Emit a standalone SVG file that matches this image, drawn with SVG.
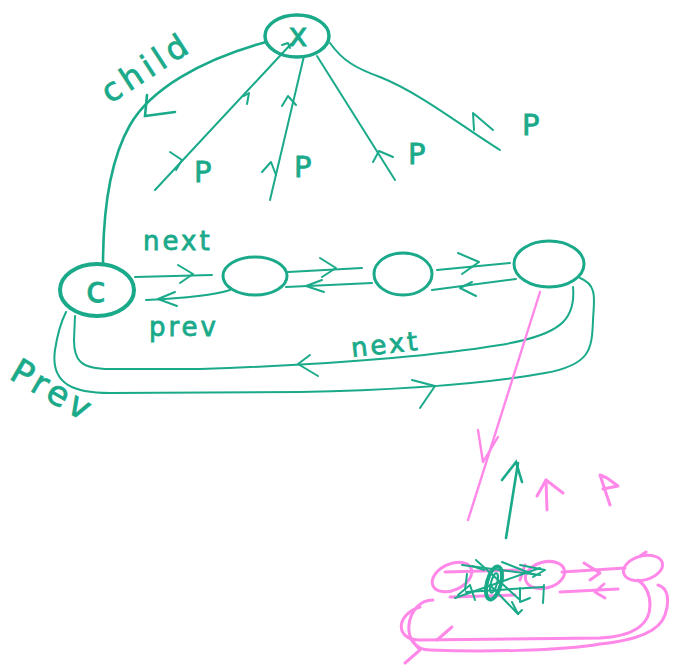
<svg xmlns="http://www.w3.org/2000/svg" width="679" height="665" viewBox="0 0 679 665">
<style>
.g{fill:none;stroke:#1aaa8a;stroke-width:2;stroke-linecap:round;stroke-linejoin:round}
.gt{fill:none;stroke:#1aaa8a;stroke-width:3.5;stroke-linecap:round}
.p{fill:none;stroke:#ff88e8;stroke-width:2;stroke-linecap:round;stroke-linejoin:round}
.pt{fill:none;stroke:#ff88e8;stroke-width:3;stroke-linecap:round;stroke-linejoin:round}
.t{fill:#1aaa8a;stroke:#1aaa8a;stroke-width:0.8;font-family:"DejaVu Sans",sans-serif}
</style>
<rect width="679" height="665" fill="#fff"/>
<g id="connectors">
  <!-- child -->
  <path class="gt" d="M266,42 C200,60 150,90 130,125 C110,160 103,210 103,265" style="stroke-width:2.6"/>
  <path class="gt" d="M147,95 L145,116 L175,112" style="stroke-width:2.6"/>
  <!-- p lines -->
  <path class="g" d="M155,190 L291,44"/>
  <path class="g" d="M170,152 L182,160 L176,170"/>
  <path class="g" d="M244,96 L249,93 L247,104"/>
  <path class="g" d="M282,45 L288,43 L290,48"/>
  <path class="g" d="M270,200 L304,56"/>
  <path class="g" d="M262,172 L271,162 L276,175"/>
  <path class="g" d="M282,106 L288,96 L296,105"/>
  <path class="g" d="M395,180 L317,56"/>
  <path class="g" d="M373,162 L379,151 L393,157"/>
  <path class="g" d="M330,43 C342,60 355,68 380,77 C420,93 460,125 500,150"/>
  <path class="g" d="M474,130 L473,113 L493,130"/>
  <!-- c <-> n2 -->
  <path class="g" d="M135,277 L212,275"/>
  <path class="g" d="M178,265 L193,274 L180,283"/>
  <path class="g" d="M230,290 C215,295 190,298 146,300"/>
  <path class="g" d="M175,292 L158,299 L177,306"/>
  <!-- n2 <-> n3 -->
  <path class="g" d="M288,272 L362,268"/>
  <path class="g" d="M320,258 L336,268 L322,277"/>
  <path class="g" d="M372,283 L286,287"/>
  <path class="g" d="M322,280 L306,286 L324,292"/>
  <!-- n3 <-> n4 -->
  <path class="g" d="M437,270 L510,263"/>
  <path class="g" d="M458,253 L479,262 L462,274"/>
  <path class="g" d="M516,279 L432,290"/>
  <path class="g" d="M472,282 L460,288 L476,296"/>
  <!-- long next (inner) -->
  <path class="g" d="M573,287 C576,320 560,335 500,345 C420,358 320,365 200,369 L110,369 C80,369 74,360 74,340 L75,316"/>
  <path class="g" d="M310,355 L298,364 L318,376"/>
  <!-- long prev (outer) -->
  <path class="g" d="M580,278 C598,285 594,300 593,320 C592,350 590,365 545,373 C480,385 400,390 300,392 L110,393 C75,393 50,385 55,350 C58,330 62,320 66,312"/>
  <path class="g" d="M412,380 L435,386 L420,408"/>
  <!-- pink from n4 down -->
  <path class="pt" d="M540,292 L468,520" style="stroke-width:2.4"/>
  <path class="pt" d="M478,430 L483,462 L498,437" style="stroke-width:2.4"/>
  <!-- green up arrow -->
  <path class="gt" d="M506,538 L518,463" style="stroke-width:2.6"/>
  <path class="gt" d="M502,480 L516,462 L522,482" style="stroke-width:2.6"/>
  <!-- pink up arrows -->
  <path class="pt" d="M547,510 L546,480"/>
  <path class="pt" d="M537,496 L546,480 L563,493"/>
  <path class="pt" d="M610,505 L600,475 L607,478 L618,486 L603,489"/>
  <!-- bottom pink structure -->
  <g id="mini">
    <ellipse class="pt" cx="452" cy="577" rx="21" ry="13" transform="rotate(-25 452 577)"/>
    <ellipse class="pt" cx="545" cy="575" rx="20" ry="13" transform="rotate(-15 545 575)"/>
    <ellipse class="pt" cx="643" cy="568" rx="20" ry="12" transform="rotate(-15 643 568)"/>
    <path class="pt" d="M562,572 L625,568"/>
    <path class="pt" d="M584,563 L600,573 L590,580"/>
    <path class="pt" d="M560,592 L618,589"/>
    <path class="pt" d="M604,584 L595,592 L605,598"/>
    <path class="pt" d="M445,572 L520,570"/>
    <path class="pt" d="M450,597 L515,595"/>
    <path class="pt" d="M420,607 C395,615 395,640 420,640 L600,638 C640,636 650,620 650,605 C650,592 645,585 638,580"/>
    <path class="pt" d="M433,600 C405,600 398,650 430,650 C480,652 560,651 600,644 C640,640 660,630 665,615 C670,600 668,588 658,585"/>
    <path class="pt" d="M410,638 L420,650 L405,663"/>
    <path class="pt" d="M437,640 L452,627"/>
    <path class="pt" d="M520,580 L525,565"/>
    <path class="pt" d="M640,556 L646,552"/>
  </g>
  <g id="mini-green">
    <path class="g" d="M462,565 L540,575"/>
    <path class="g" d="M466,592 L543,587"/>
    <path class="g" d="M476,560 L520,600"/>
    <path class="g" d="M455,598 L540,568"/>
    <path class="g" d="M502,562 L535,575"/>
    <path class="g" d="M520,565 L545,570 L533,577"/>
    <path class="g" d="M458,595 L470,585 L475,600"/>
    <path class="g" d="M520,588 L520,602 L530,598"/>
    <path class="g" d="M544,585 L543,603"/>
    <path class="g" d="M467,574 L465,590"/>
    <path class="g" d="M490,585 L518,614"/>
    <path class="g" d="M512,602 L518,614 L522,610"/>
    <path class="g" d="M472,566 L484,570"/>
    <ellipse class="gt" cx="494" cy="583" rx="7" ry="17" transform="rotate(15 494 583)" style="stroke-width:4"/>
    <ellipse class="gt" cx="494" cy="583" rx="3" ry="10" transform="rotate(15 494 583)" style="stroke-width:2"/>
  </g>
</g>
<g id="node-x">
  <ellipse class="gt" cx="297" cy="36" rx="32" ry="21"/>
  <text class="t" x="298" y="46" font-size="32" text-anchor="middle">x</text>
</g>
<g id="node-c">
  <ellipse class="gt" cx="97" cy="290" rx="37" ry="26" style="stroke-width:4"/>
  <text class="t" x="96" y="302" font-size="36" text-anchor="middle">c</text>
</g>
<g id="node-2"><ellipse class="gt" cx="255" cy="276" rx="32" ry="19" style="stroke-width:3"/></g>
<g id="node-3"><ellipse class="gt" cx="403" cy="274" rx="29" ry="21" style="stroke-width:3"/></g>
<g id="node-4"><ellipse class="gt" cx="549" cy="264" rx="35" ry="23" style="stroke-width:3"/></g>
<g id="labels">
  <text class="t" x="0" y="0" font-size="32" letter-spacing="5" transform="translate(110,104) rotate(-33)">child</text>
  <text class="t" x="194" y="182" font-size="29">P</text>
  <text class="t" x="294" y="177" font-size="29">P</text>
  <text class="t" x="408" y="164" font-size="29">P</text>
  <text class="t" x="522" y="135" font-size="29">P</text>
  <text class="t" x="143" y="250" font-size="26" letter-spacing="3">next</text>
  <text class="t" x="149" y="336" font-size="26" letter-spacing="3">prev</text>
  <text class="t" x="0" y="0" font-size="26" letter-spacing="3" transform="translate(352,357) rotate(-6)">next</text>
  <text class="t" x="0" y="0" font-size="34" letter-spacing="4" transform="translate(8,378) rotate(30)">Prev</text>
</g>
</svg>
